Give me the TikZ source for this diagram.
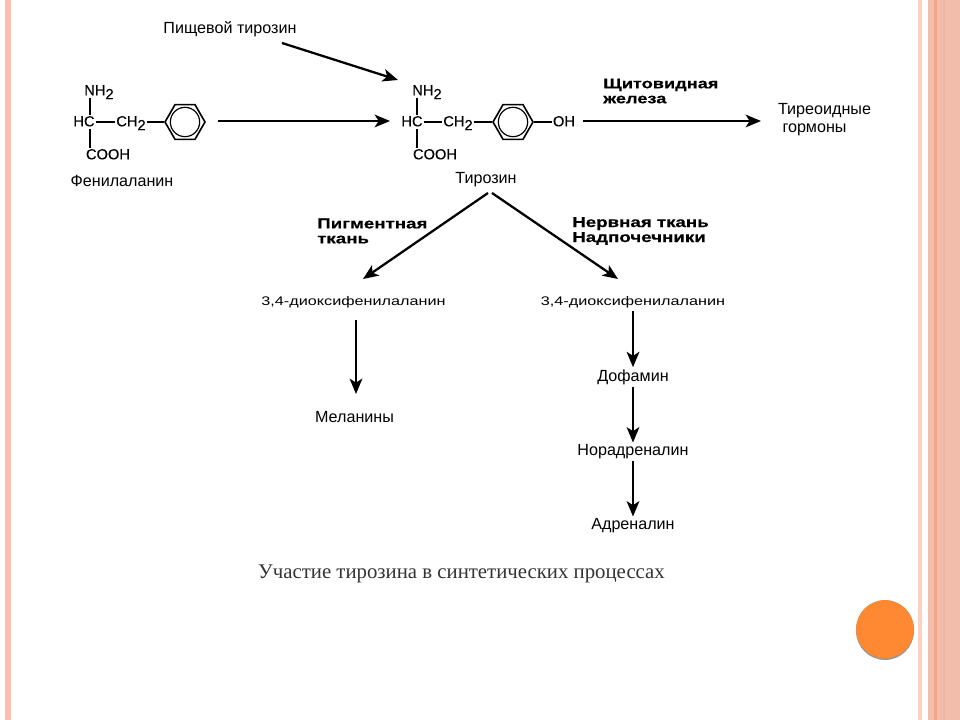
\documentclass[tikz,border=0pt]{standalone}
\usepackage{fontspec}
\setmainfont{Liberation Serif}
\setsansfont{Liberation Sans}
\newfontfamily\chemfont[FakeBold=0.25]{Liberation Sans}
\newfontfamily\widefont[FakeStretch=1.3]{Liberation Sans}
\newfontfamily\widebold[FakeStretch=1.3,FakeBold=0.4]{Liberation Sans Bold}
\usetikzlibrary{arrows.meta,shapes.geometric}

\def \ringSize {30pt}
\def \holeSize {22pt}
\newcommand{\subTwo}{\raisebox{-0.5ex}{2}}

\definecolor{stripeA}{HTML}{FFBDB0}
\definecolor{stripeB}{HTML}{FFD0C2}
\definecolor{stripeC}{HTML}{F2BDAA}
\definecolor{stripeD}{HTML}{F3A684}
\definecolor{stripeE}{HTML}{EFB5A0}
\definecolor{dotOrange}{HTML}{FF8833}
\definecolor{captionGrey}{HTML}{333333}

\tikzset{
   chem/.style={font=\chemfont\fontsize{11}{11}\selectfont, inner sep=0.5pt, text height=8pt, text depth=1.5pt},
   plain/.style={font=\sffamily\fontsize{12.1}{13.5}\selectfont, inner sep=1.5pt},
   tissue/.style={font=\widebold\fontsize{10.8}{11.25}\selectfont, inner sep=0pt, align=left, anchor=west},
   dopa/.style={font=\widefont\fontsize{9.35}{9.35}\selectfont, inner sep=2pt},
   ring/.style={draw, regular polygon, regular polygon sides=6, minimum size=\ringSize, inner sep=0pt, line width=1.2pt},
   hole/.style={draw, circle, minimum size=\holeSize, inner sep=0pt, line width=0.9pt},
   bond/.style={line width=1.2pt},
   flow/.style={line width=1.7pt, -{Stealth[length=11.5pt,width=9.5pt,inset=3pt]}}
}

\begin{document}
\begin{tikzpicture}[x=0.75pt,y=-0.75pt]
   \useasboundingbox (0,0) rectangle (960,720);

   % slide border
   \fill[stripeA] (5,0) rectangle (11,720);
   \fill[stripeB] (918,0) rectangle (922,720);
   \fill[stripeC] (928,0) rectangle (960,720);
   \fill[stripeD] (934,0) rectangle (937,720);
   \fill[stripeE] (943,0) rectangle (945,720);
   \fill[gray!80] (885,631) circle (29);
   \fill[dotOrange] (885,629) circle (29);

   % phenylalanine
   \coordinate (pheC) at (90,122);
   \node[chem] (pheNH) at (99,91) {NH\subTwo};
   \node[chem] (pheHC) at (84,122) {HC};
   \node[chem] (pheCH) at (131,122) {CH\subTwo};
   \node[chem] (pheCOOH) at (108,155) {COOH};
   \node[ring] (pheRing) at (185,122) {};
   \node[hole] at (pheRing.center) {};
   \node[plain] (pheName) at (122,181) {Фенилаланин};
   \draw[bond] (pheNH.south -| pheC) -- (pheHC.north -| pheC);
   \draw[bond] (pheHC.south -| pheC) -- (pheCOOH.north -| pheC);
   \draw[bond] (pheHC.east) -- (pheCH.west);
   \draw[bond] (pheCH.east) -- (pheRing.west);

   % tyrosine
   \coordinate (tyrC) at (417,122);
   \node[chem] (tyrNH) at (427,91) {NH\subTwo};
   \node[chem] (tyrHC) at (412,122) {HC};
   \node[chem] (tyrCH) at (458,122) {CH\subTwo};
   \node[chem] (tyrCOOH) at (435,155) {COOH};
   \node[ring] (tyrRing) at (513,122) {};
   \node[hole] at (tyrRing.center) {};
   \node[chem] (tyrOH) at (564,122) {OH};
   \node[plain] (tyrName) at (486,180) {Тирозин};
   \draw[bond] (tyrNH.south -| tyrC) -- (tyrHC.north -| tyrC);
   \draw[bond] (tyrHC.south -| tyrC) -- (tyrCOOH.north -| tyrC);
   \draw[bond] (tyrHC.east) -- (tyrCH.west);
   \draw[bond] (tyrCH.east) -- (tyrRing.west);
   \draw[bond] (tyrRing.east) -- (tyrOH.west);

   % top row
   \node[plain] (dietTyr) at (230,29) {Пищевой тирозин};
   \coordinate (dietFrom) at (282,43);
   \coordinate (dietTo) at (398,80);
   \draw[flow] (dietFrom) -- (dietTo);
   \coordinate (pheFrom) at (218,121);
   \coordinate (pheTo) at (390,121);
   \draw[flow] (pheFrom) -- (pheTo);
   \coordinate (tyrFrom) at (583,121);
   \coordinate (tyrTo) at (761,121);
   \draw[flow] (tyrFrom) -- (tyrTo);
   \node[tissue, font=\widebold\fontsize{10.5}{11.25}\selectfont] (thyroid) at (603,91) {Щитовидная\\железа};
   \node[plain, align=left] (hormones) at (824.5,120) {Тиреоидные\\\ гормоны};

   % branches
   \node[tissue] (pigment) at (317,231) {Пигментная\\ткань};
   \node[tissue] (nerve) at (572,231) {Нервная ткань\\Надпочечники};
   \node[dopa] (dopaL) at (353.5,302) {3,4-диоксифенилаланин};
   \node[dopa] (dopaR) at (633,302) {3,4-диоксифенилаланин};
   \coordinate (forkL) at (488,193);
   \coordinate (forkR) at (492,193);
   \coordinate (leftTo) at (363,279);
   \coordinate (rightTo) at (618,279);
   \draw[flow] (forkL) -- (leftTo);
   \draw[flow] (forkR) -- (rightTo);

   % lower chains
   \node[plain] (melanin) at (354.5,417) {Меланины};
   \node[plain] (dopamine) at (633,377) {Дофамин};
   \node[plain] (noradr) at (633,452) {Норадреналин};
   \node[plain] (adren) at (633,526) {Адреналин};
   \coordinate (melFrom) at (356,320);
   \coordinate (melTo) at (356,394);
   \draw[flow] (melFrom) -- (melTo);
   \draw[flow] (dopaR) -- (dopamine);
   \draw[flow] (dopamine) -- (noradr);
   \draw[flow] (noradr) -- (adren);

   \node[font=\rmfamily\fontsize{15.6}{15.6}\selectfont, text=captionGrey, inner sep=0pt] (caption) at (461.5,574) {Участие тирозина в синтетических процессах};
\end{tikzpicture}
\end{document}
